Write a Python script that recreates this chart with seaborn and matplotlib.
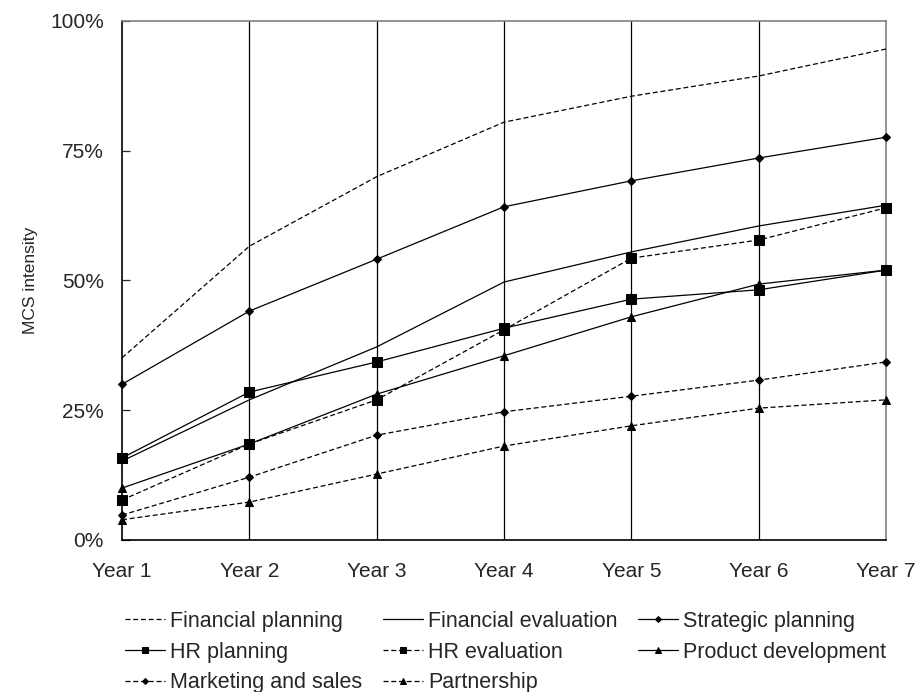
import pandas as pd
import matplotlib
matplotlib.use("Agg")
import matplotlib.pyplot as plt
import seaborn as sns

sns.set_style("white")
plt.rcParams["font.family"] = ["Liberation Sans", "DejaVu Sans"]

# data (percent)
years = ["Year 1", "Year 2", "Year 3", "Year 4", "Year 5", "Year 6", "Year 7"]
financial_planning = [35.1, 56.6, 70.0, 80.5, 85.5, 89.4, 94.6]
financial_evaluation = [15.2, 27.0, 37.2, 49.7, 55.5, 60.5, 64.5]
strategic_planning = [30.0, 44.1, 54.1, 64.2, 69.2, 73.6, 77.6]
hr_planning = [15.8, 28.5, 34.3, 40.8, 46.4, 48.2, 52.0]
hr_evaluation = [7.7, 18.5, 27.0, 40.5, 54.3, 57.8, 64.0]
product_development = [10.0, 18.5, 28.1, 35.5, 43.0, 49.3, 52.0]
marketing_sales = [4.8, 12.1, 20.2, 24.7, 27.7, 30.8, 34.3]
partnership = [3.9, 7.3, 12.7, 18.1, 22.0, 25.4, 27.0]

series = [
    ("Financial planning", financial_planning, "--", None, 0),
    ("Financial evaluation", financial_evaluation, "-", None, 0),
    ("Strategic planning", strategic_planning, "-", "D", 4),
    ("HR planning", hr_planning, "-", "s", 6.5),
    ("HR evaluation", hr_evaluation, "--", "s", 6.5),
    ("Product development", product_development, "-", "^", 6),
    ("Marketing and sales", marketing_sales, "--", "D", 4),
    ("Partnership", partnership, "--", "^", 6),
]

fig = plt.figure(figsize=(9.23, 6.92), dpi=100)
ax = fig.add_axes([0.1322, 0.2197, 0.8278, 0.75])

x = list(range(len(years)))
handles = {}
for name, vals, ls, mk, ms in series:
    df = pd.DataFrame({"x": x, "y": vals})
    sns.lineplot(data=df, x="x", y="y", ax=ax, color="black", linewidth=0.9,
                 marker=mk, markersize=ms, markeredgecolor="black",
                 markerfacecolor="black", label=name, clip_on=False, zorder=3)
    line = ax.get_lines()[-1]
    if ls == "--":
        line.set_dashes((4, 2.2))
    handles[name] = line

# vertical grid lines at each year
for xi in x[1:-1]:
    ax.axvline(xi, color="black", linewidth=0.9, zorder=1)

ax.set_xlim(0, 6)
ax.set_ylim(0, 100)
ax.set_xticks(x)
ax.set_xticklabels(years)
ax.set_yticks([0, 25, 50, 75, 100])
ax.set_yticklabels(["0%", "25%", "50%", "75%", "100%"])
ax.tick_params(axis="y", direction="in", length=6, width=0.9, left=True,
               labelsize=15, pad=13)
ax.tick_params(axis="x", length=0, labelsize=15, pad=16)
ax.set_xlabel("")
ax.set_ylabel("MCS intensity", fontsize=12.5, labelpad=9)

for side in ["left", "bottom"]:
    ax.spines[side].set_color("black")
    ax.spines[side].set_linewidth(1.2)
for side in ["top", "right"]:
    ax.spines[side].set_color("#808080")
    ax.spines[side].set_linewidth(1.2)

# legend filled row by row
order = ["Financial planning", "HR planning", "Marketing and sales",
         "Financial evaluation", "HR evaluation", "Partnership",
         "Strategic planning", "Product development"]
ax.legend([handles[n] for n in order], order, ncol=3, frameon=False,
          loc="upper left", bbox_to_anchor=(125 / 923, 1 - 611 / 692),
          bbox_transform=fig.transFigure, borderpad=0, borderaxespad=0,
          fontsize=15.5, handlelength=1.85, handletextpad=0.25,
          columnspacing=0.95, labelspacing=0.45, markerscale=0.75)

fig.savefig("out.png", dpi=100)
